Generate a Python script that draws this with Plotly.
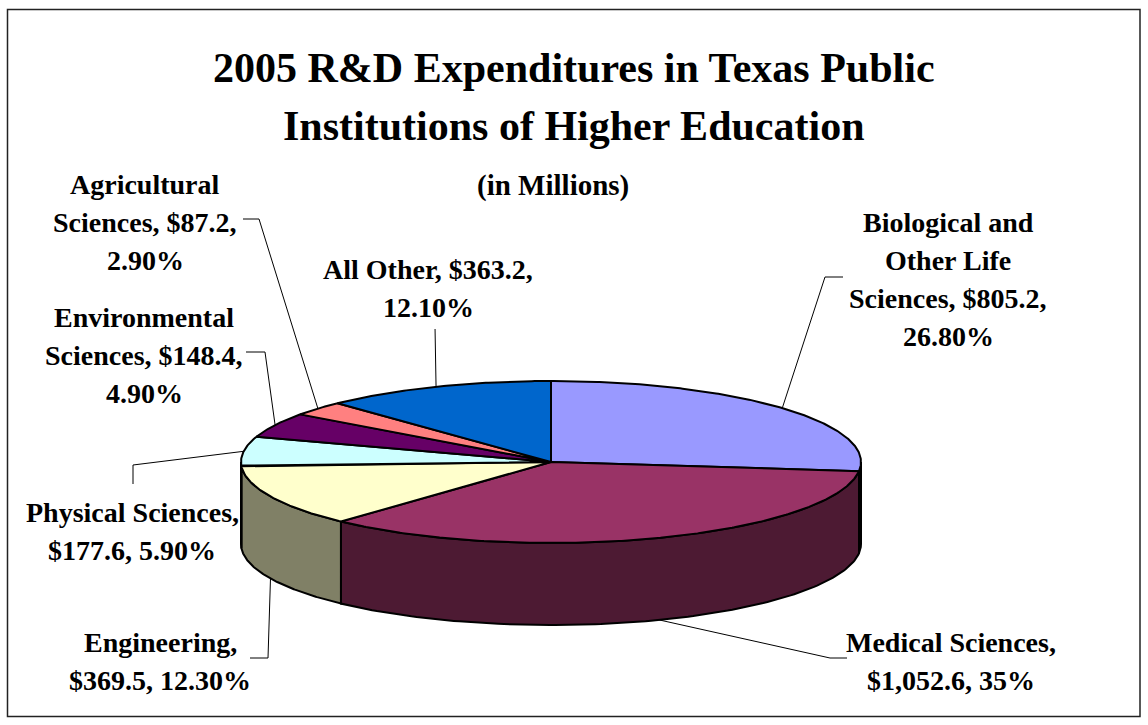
import numpy as np
import plotly.graph_objects as go

# ---------------- data ----------------
categories = ["Biological and Other Life Sciences", "Medical Sciences", "Engineering",
              "Physical Sciences", "Environmental Sciences", "Agricultural Sciences", "All Other"]
values = [805.2, 1052.6, 369.5, 177.6, 148.4, 87.2, 363.2]
value_labels = ["$805.2", "$1,052.6", "$369.5", "$177.6", "$148.4", "$87.2", "$363.2"]
pct_labels = ["26.80%", "35%", "12.30%", "5.90%", "4.90%", "2.90%", "12.10%"]
label_lines = [
    ["Biological and", "Other Life", "Sciences, $805.2,", "26.80%"],
    ["Medical Sciences,", "$1,052.6, 35%"],
    ["Engineering,", "$369.5, 12.30%"],
    ["Physical Sciences,", "$177.6, 5.90%"],
    ["Environmental", "Sciences, $148.4,", "4.90%"],
    ["Agricultural", "Sciences, $87.2,", "2.90%"],
    ["All Other, $363.2,", "12.10%"],
]
title_lines = ["2005 R&D Expenditures in Texas Public", "Institutions of Higher Education"]
subtitle = "(in Millions)"

# ---------------- style ----------------
top_colors = ["#9999FF", "#993366", "#FFFFCC", "#CCFFFF", "#660066", "#FF8080", "#0066CC"]
side_colors = ["#4D4D80", "#4D1A33", "#808066", "#668080", "#330033", "#804040", "#003366"]
W, H = 1148, 725
CX, CY, RX, RY, DEPTH = 551, 462, 310, 81, 82
FONT = "Liberation Serif"
LBL_SIZE = 28
LINE_GAP = 38
# label placement: (center x, y of first line); leader: (end point near text, elbow)
label_pos = [(948, 222), (951, 642), (160, 642), (132, 512), (144, 317), (145, 184), (428, 269)]
leader_ends = [(843, 277), (847, 658), (250, 658), (243, 452), (246, 352), (243, 219), None]
leader_elbows = [(825, 277), (830, 658), (268, 658), (133, 465), (265, 352), (259, 219), None]
leader_extra = [None, None, None, (133, 484), None, None, None]
anchor_on = ["top", "bottom", "bottom", "top", "top", "top", "top"]
leader_vert = [None, None, None, None, None, None, 329]

fig = go.Figure()

vals = np.array(values, dtype=float)
frac = vals / vals.sum()
starts = 90 - 360 * np.concatenate([[0], np.cumsum(frac)[:-1]])
ends = starts - 360 * frac


def ell(theta_deg, dy=0.0):
    t = np.radians(theta_deg)
    return CX + RX * np.cos(t), CY - RY * np.sin(t) + dy


# side faces (front half only: angles between -180 and 0)
for i in range(len(vals)):
    s, e = starts[i], ends[i]
    for shift in (0, -360):
        hi = min(s + shift, 0)
        lo = max(e + shift, -180)
        if hi > lo:
            th = np.linspace(hi, lo, 120)
            x1, y1 = ell(th)
            x2, y2 = ell(th[::-1], DEPTH)
            xs = np.concatenate([x1, x2, x1[:1]])
            ys = np.concatenate([y1, y2, y1[:1]])
            fig.add_trace(go.Scatter(x=xs, y=ys, mode="lines", fill="toself",
                                     fillcolor=side_colors[i],
                                     line=dict(color="black", width=2),
                                     hoverinfo="skip", showlegend=False))

# top faces
for i in range(len(vals)):
    th = np.linspace(starts[i], ends[i], max(int(abs(starts[i] - ends[i]) * 2), 8))
    x, y = ell(th)
    xs = np.concatenate([[CX], x, [CX]])
    ys = np.concatenate([[CY], y, [CY]])
    fig.add_trace(go.Scatter(x=xs, y=ys, mode="lines", fill="toself",
                             fillcolor=top_colors[i],
                             line=dict(color="black", width=2),
                             name=categories[i],
                             text=[f"{categories[i]}, {value_labels[i]}, {pct_labels[i]}"] * len(xs),
                             hoverinfo="text", showlegend=False))

# leader lines (start point computed from slice mid-angle)
for i in range(len(vals)):
    mid = (starts[i] + ends[i]) / 2
    dy = DEPTH if anchor_on[i] == "bottom" else 0
    ax, ay = ell(mid, dy)
    if leader_vert[i] is not None:
        xs, ys = [ax, ax - 1], [ay, leader_vert[i]]
    elif leader_extra[i] is not None:
        xs = [ax, leader_elbows[i][0], leader_extra[i][0]]
        ys = [ay, leader_elbows[i][1], leader_extra[i][1]]
    else:
        xs = [ax, leader_elbows[i][0], leader_ends[i][0]]
        ys = [ay, leader_elbows[i][1], leader_ends[i][1]]
    fig.add_trace(go.Scatter(x=xs, y=ys, mode="lines",
                             line=dict(color="black", width=1),
                             hoverinfo="skip", showlegend=False))

annotations = []
for i, lines in enumerate(label_lines):
    x0, y0 = label_pos[i]
    for k, ln in enumerate(lines):
        annotations.append(dict(x=x0, y=y0 + k * LINE_GAP, xref="x", yref="y", text=f"<b>{ln}</b>",
                                showarrow=False, xanchor="center", yanchor="middle",
                                font=dict(family=FONT, size=LBL_SIZE, color="black")))

for k, ln in enumerate(title_lines):
    annotations.append(dict(x=574, y=68 + k * 58, xref="x", yref="y", text=f"<b>{ln}</b>",
                            showarrow=False, xanchor="center", yanchor="middle",
                            font=dict(family=FONT, size=42, color="black")))
annotations.append(dict(x=553, y=185, xref="x", yref="y", text=f"<b>{subtitle}</b>",
                        showarrow=False, xanchor="center", yanchor="middle",
                        font=dict(family=FONT, size=29, color="black")))

fig.update_layout(
    width=W, height=H,
    margin=dict(l=0, r=0, t=0, b=0),
    paper_bgcolor="white", plot_bgcolor="white",
    xaxis=dict(range=[0, W], visible=False, fixedrange=True),
    yaxis=dict(range=[H, 0], visible=False, fixedrange=True),
    annotations=annotations,
    shapes=[dict(type="rect", xref="x", yref="y", x0=7.5, y0=9.5, x1=1140, y1=716.5,
                 line=dict(color="#222222", width=1.5), layer="below")],
    showlegend=False,
)

fig.write_html("out.html")
